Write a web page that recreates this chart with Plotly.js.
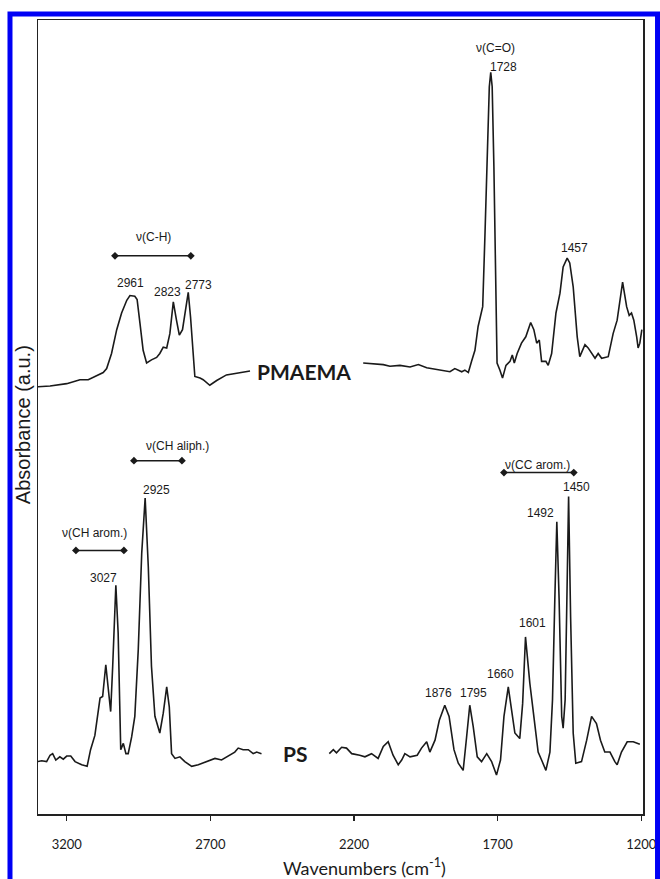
<!DOCTYPE html>
<html>
<head>
<meta charset="utf-8">
<script src="https://cdn.plot.ly/plotly-3.0.1.min.js"></script>
<style>
html,body{margin:0;padding:0;background:#fff;}
#chart{width:660px;height:879px;}
</style>
</head>
<body>
<div id="chart"></div>
<script>
// ---- Data (wavenumber in cm-1, absorbance in a.u., PMAEMA offset above PS) ----
const pmaemaWn = [3301,3258,3200,3154,3125,3096,3073,3061,3044,3026,3009,2991,2980,2963,2955,2945,2934,2922,2905,2887,2876,2864,2852,2841,2829,2818,2808,2797,2785,2777,2769,2754,2736,2725,2702,2678,2644,2597,2562,
  null,
  2168,2133,2098,2075,2040,2005,1976,1947,1912,1889,1866,1849,1837,1825,1814,1802,1791,1779,1768,1752,1744,1736,1729,1724,1719,1713,1707,1702,1692,1683,1671,1657,1649,1642,1632,1617,1602,1585,1574,1564,1555,1547,1532,1524,1512,1497,1483,1472,1458,1449,1437,1423,1414,1396,1385,1373,1361,1350,1338,1315,1298,1284,1265,1251,1242,1234,1226,1216,1211,1205,1198];
const pmaemaAbs = [0.538,0.539,0.542,0.547,0.547,0.552,0.556,0.561,0.580,0.610,0.631,0.647,0.653,0.652,0.648,0.618,0.584,0.568,0.572,0.575,0.580,0.588,0.587,0.605,0.645,0.622,0.603,0.610,0.635,0.657,0.626,0.551,0.549,0.547,0.540,0.546,0.553,0.556,0.558,
  null,
  0.568,0.567,0.566,0.564,0.565,0.563,0.566,0.562,0.560,0.558,0.557,0.561,0.559,0.557,0.559,0.556,0.570,0.584,0.614,0.639,0.731,0.836,0.916,0.934,0.916,0.815,0.647,0.568,0.559,0.549,0.565,0.570,0.578,0.568,0.580,0.593,0.601,0.619,0.610,0.593,0.597,0.570,0.570,0.565,0.580,0.631,0.656,0.689,0.700,0.694,0.664,0.601,0.576,0.591,0.587,0.580,0.574,0.580,0.574,0.576,0.605,0.622,0.670,0.639,0.628,0.631,0.622,0.601,0.587,0.593,0.610];

const psWn = [3301,3287,3270,3258,3249,3238,3224,3212,3200,3186,3171,3148,3129,3117,3102,3094,3084,3075,3064,3056,3047,3040,3029,3021,3012,3003,2994,2986,2974,2963,2951,2939,2927,2916,2905,2893,2876,2864,2852,2843,2835,2823,2806,2789,2765,2742,2713,2684,2661,2638,2615,2603,2586,2568,2551,2539,2522,
  null,
  2286,2272,2261,2243,2226,2208,2180,2162,2139,2116,2098,2081,2064,2046,2034,2023,2005,1980,1965,1947,1936,1918,1903,1884,1869,1852,1837,1820,1808,1797,1785,1771,1756,1738,1721,1704,1690,1678,1663,1651,1640,1623,1613,1603,1588,1574,1559,1547,1532,1518,1509,1501,1494,1486,1477,1472,1465,1460,1453,1446,1437,1428,1408,1390,1373,1356,1342,1327,1309,1292,1284,1269,1249,1228,1205];
const psAbs = [0.066,0.067,0.066,0.074,0.076,0.068,0.072,0.069,0.073,0.073,0.066,0.062,0.060,0.081,0.099,0.123,0.146,0.148,0.188,0.160,0.129,0.186,0.288,0.228,0.081,0.089,0.076,0.076,0.097,0.123,0.207,0.328,0.398,0.311,0.186,0.123,0.102,0.127,0.160,0.135,0.076,0.070,0.072,0.066,0.060,0.062,0.066,0.070,0.068,0.073,0.078,0.083,0.081,0.081,0.076,0.078,0.076,
  null,
  0.076,0.081,0.077,0.084,0.083,0.076,0.074,0.072,0.076,0.070,0.085,0.091,0.074,0.062,0.068,0.076,0.072,0.074,0.083,0.091,0.078,0.093,0.118,0.137,0.123,0.081,0.064,0.055,0.097,0.137,0.110,0.072,0.066,0.076,0.066,0.049,0.068,0.123,0.160,0.131,0.102,0.095,0.139,0.223,0.165,0.123,0.078,0.068,0.055,0.078,0.144,0.270,0.368,0.270,0.123,0.108,0.144,0.248,0.400,0.248,0.102,0.064,0.066,0.093,0.123,0.114,0.093,0.078,0.078,0.066,0.062,0.078,0.091,0.091,0.088];

// band-range brackets: [from, to] wavenumbers and label
const bracketLabels = ["ν(C-H)", "ν(CH aliph.)", "ν(CH arom.)", "ν(CC arom.)"];
const bracketFrom   = [3032, 2966, 3168, 1678];
const bracketTo     = [2768, 2799, 3001, 1435];
const bracketLevel  = [0.703, 0.445, 0.332, 0.430];

const tickVals = [3200, 2700, 2200, 1700, 1200];

// ---- Traces ----
const lineStyle = {color: '#1a1a1a', width: 1.6};
const traces = [
  {x: pmaemaWn, y: pmaemaAbs, type: 'scatter', mode: 'lines', line: lineStyle, connectgaps: false, hoverinfo: 'skip'},
  {x: psWn, y: psAbs, type: 'scatter', mode: 'lines', line: lineStyle, connectgaps: false, hoverinfo: 'skip'}
];
for (let i = 0; i < bracketLabels.length; i++) {
  traces.push({
    x: [bracketFrom[i], bracketTo[i]], y: [bracketLevel[i], bracketLevel[i]],
    type: 'scatter', mode: 'lines+markers',
    line: {color: '#1a1a1a', width: 1.5},
    marker: {symbol: 'diamond', size: 6, color: '#1a1a1a'},
    hoverinfo: 'skip'
  });
}

// ---- Annotations ----
const AF = {family: 'Liberation Sans, Arial, sans-serif', size: 12, color: '#1a1a1a'};
function t(x, y, text, font) {
  return {x: x, y: y, xref: 'x', yref: 'y', text: text, showarrow: false,
          xanchor: 'center', yanchor: 'middle', font: font || AF};
}
const BF = {family: 'Lato, sans-serif', size: 21, color: '#1a1a1a', weight: 'bold'};
const annotations = [
  t(1708, 0.965, 'ν(C=O)'),
  t(1678, 0.941, '1728'),
  t(1431, 0.713, '1457'),
  t(2897, 0.727, bracketLabels[0]),
  t(2978, 0.669, '2961'),
  t(2850, 0.658, '2823'),
  t(2743, 0.666, '2773'),
  t(2374, 0.557, '<b>PMAEMA</b>', BF),
  t(2402, 0.076, '<b>PS</b>', BF),
  t(2813, 0.463, bracketLabels[1]),
  t(2886, 0.408, '2925'),
  t(3105, 0.354, bracketLabels[2]),
  t(3071, 0.297, '3027'),
  t(1560, 0.440, bracketLabels[3]),
  t(1424, 0.412, '1450'),
  t(1550, 0.379, '1492'),
  t(1577, 0.240, '1601'),
  t(1689, 0.176, '1660'),
  t(1907, 0.152, '1876'),
  t(1783, 0.152, '1795'),
  {x: 0.539, y: -0.0668, xref: 'paper', yref: 'paper', showarrow: false,
   text: 'Wavenumbers (cm<sup>-1</sup>)', xanchor: 'center', yanchor: 'middle',
   font: {family: 'Lato, sans-serif', size: 18, color: '#1a1a1a'}},
  {x: -0.0248, y: 0.491, xref: 'paper', yref: 'paper', showarrow: false,
   text: 'Absorbance (a.u.)', textangle: -90, xanchor: 'center', yanchor: 'middle',
   font: {family: 'Liberation Sans, Arial, sans-serif', size: 20, color: '#1a1a1a'}}
];

const layout = {
  width: 660, height: 879,
  margin: {l: 38, r: 17, t: 20, b: 65, pad: 0},
  paper_bgcolor: '#ffffff', plot_bgcolor: '#ffffff',
  showlegend: false,
  xaxis: {
    range: [3300, 1194], tickvals: tickVals, ticktext: tickVals.map(String),
    ticks: 'outside', ticklen: 5, tickwidth: 1.3, tickcolor: '#222',
    showline: true, linecolor: '#222', linewidth: 1.5, mirror: true,
    showgrid: false, zeroline: false,
    tickfont: {family: 'Lato, sans-serif', size: 13, color: '#1a1a1a'},
    ticklabelstandoff: 13
  },
  yaxis: {
    range: [0, 1], showticklabels: false, ticks: '',
    showline: true, linecolor: '#222', linewidth: 1.5, mirror: true,
    showgrid: false, zeroline: false
  },
  annotations: annotations,
  shapes: [
    {type: 'rect', xref: 'paper', yref: 'paper',
     x0: -0.0463, x1: 1.024, y0: -0.15, y1: 1.0076,
     line: {color: '#0000f5', width: 5}, fillcolor: 'rgba(0,0,0,0)', layer: 'above'}
  ]
};

Plotly.newPlot('chart', traces, layout, {staticPlot: true, displayModeBar: false});
</script>
</body>
</html>
